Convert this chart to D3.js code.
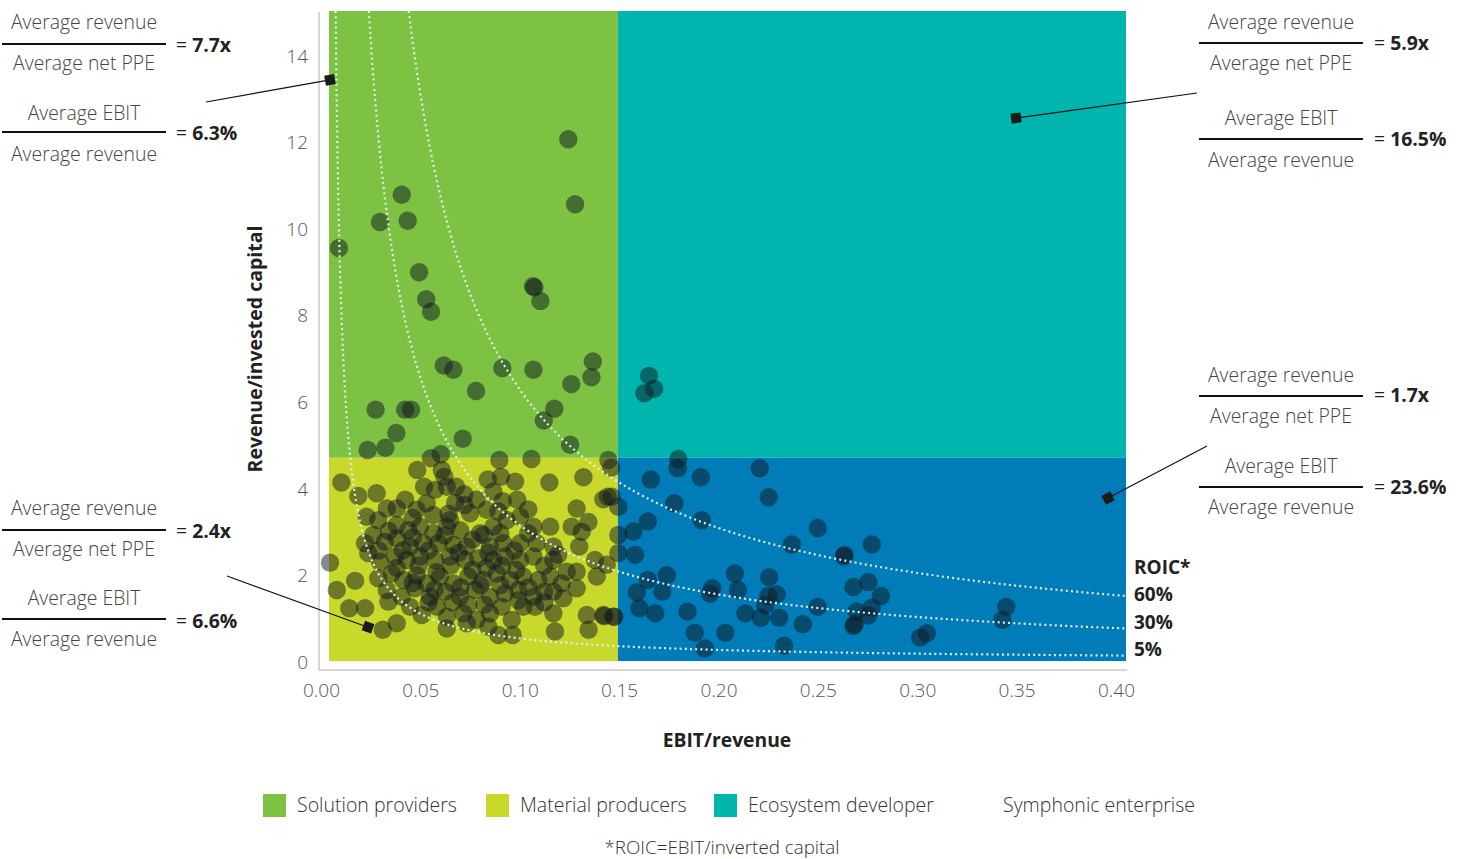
<!DOCTYPE html>
<html>
<head>
<meta charset="utf-8">
<script src="https://cdn.jsdelivr.net/npm/d3@7"></script>
<style>
  html, body { margin: 0; padding: 0; background: #fff; }
  svg { display: block; font-family: "Open Sans", "Noto Sans", sans-serif; }
</style>
</head>
<body>
<svg id="chart" width="1465" height="859"></svg>
<script>
// ---------------- DATA ----------------
const xTicks = [0, 0.05, 0.10, 0.15, 0.20, 0.25, 0.30, 0.35, 0.40];
const yTicks = [0, 2, 4, 6, 8, 10, 12, 14];

const segmentNames = ["Solution providers", "Material producers", "Ecosystem developer", "Symphonic enterprise"];
const segmentColors = ["#7dc242", "#c8d92c", "#00b5ad", "#007cb8"];
const segmentShowSwatch = [true, true, true, false];
const marginSplit = 0.145;      // EBIT/revenue boundary
const turnoverSplit = 4.69;     // revenue/invested capital boundary
const xMax = 0.40, yMax = 15;

// ROIC iso-lines
const roicLevels = [0.60, 0.30, 0.05];
const roicLabels = ["60%", "30%", "5%"];

// segment averages (marker squares)
const segmentMarkers = [
  [0.0005, 13.41],  // solution providers
  [0.3448, 12.53],  // ecosystem developer
  [0.3910, 3.76],   // symphonic enterprise
  [0.0196, 0.78]    // material producers
];
const ratioPPE = ["7.7x", "5.9x", "1.7x", "2.4x"];
const ratioEBIT = ["6.3%", "16.5%", "23.6%", "6.6%"];

// companies: [EBIT/revenue, revenue/invested capital]
const companies = [
  [0.1201,12.04],[0.1235,10.54],[0.0365,10.76],[0.0256,10.13],[0.0395,10.16],[0.0050,9.53],
  [0.0452,8.97],[0.0488,8.35],[0.0512,8.06],[0.1031,8.62],[0.1024,8.65],[0.1061,8.31],
  [0.0576,6.82],[0.0624,6.72],[0.0870,6.76],[0.1026,6.72],[0.1324,6.91],[0.1317,6.55],
  [0.1216,6.39],[0.0738,6.23],[0.0234,5.80],[0.0382,5.80],[0.0412,5.80],[0.1131,5.82],
  [0.1078,5.55],[0.0338,5.26],[0.0671,5.13],[0.0194,4.87],[0.0283,4.92],[0.1210,4.99],
  [0.0512,4.68],[0.0561,4.77],[0.0855,4.64],[0.1016,4.66],[0.1402,4.64],[0.1416,4.46],
  [0.1606,6.58],[0.1583,6.18],[0.1632,6.28],
  [0.1753,4.66],[0.1750,4.45],[0.1615,4.19],[0.1866,4.24],[0.2162,4.45],[0.2207,3.78],
  [0.1733,3.64],[0.1871,3.25],[0.1600,3.22],[0.1528,2.99],[0.2453,3.07],[0.2323,2.69],
  [0.2724,2.69],[0.2584,2.41],[0.2588,2.45],[0.1536,2.45],[0.1695,1.98],[0.1600,1.87],
  [0.1545,1.58],[0.1673,1.60],[0.1923,1.68],[0.1913,1.55],[0.2037,2.02],[0.2052,1.64],
  [0.2209,1.93],[0.2247,1.54],[0.2205,1.50],[0.2189,1.29],[0.1558,1.22],[0.1637,1.10],
  [0.1799,1.14],[0.2090,1.10],[0.2167,1.00],[0.2259,1.00],[0.2378,0.85],[0.2453,1.25],
  [0.2632,1.71],[0.2707,1.82],[0.2770,1.50],[0.2649,1.14],[0.2724,1.23],[0.2707,1.05],
  [0.2632,0.81],[0.2638,0.85],[0.1836,0.65],[0.1989,0.65],[0.1887,0.29],[0.2284,0.35],
  [0.3399,1.25],[0.3380,0.95],[0.3000,0.64],[0.2967,0.54],
  [0.1399,3.79],[0.1452,3.56],[0.1452,2.91],[0.1452,2.49],[0.1432,1.02],[0.1380,1.04],
  [0.0062,4.12],[0.0147,3.81],[0.0239,3.87],[0.0443,4.41],[0.0566,4.41],[0.0579,4.25],
  [0.0477,4.02],[0.0532,3.95],[0.0591,4.02],[0.0638,4.02],[0.0679,3.85],[0.0797,4.19],
  [0.0863,4.25],[0.0934,4.14],[0.0825,3.91],[0.0872,3.69],[0.0945,3.72],[0.1106,4.12],
  [0.1277,4.24],[0.0340,3.52],[0.0290,3.52],[0.0382,3.72],[0.0440,3.49],[0.0490,3.64],
  [0.0524,3.37],[0.0633,3.65],[0.0741,3.72],[0.0792,3.49],[0.0708,3.41],[0.0607,3.25],
  [0.0189,3.33],[0.0247,3.25],[0.0340,3.14],[0.0398,3.02],[0.0457,3.10],[0.0524,2.95],
  [0.0591,3.10],[0.0658,3.02],[0.0758,2.95],[0.0825,3.10],[0.0892,3.25],[0.0959,3.33],
  [0.1026,3.10],[0.1110,3.10],[0.1218,3.10],[0.1302,3.21],[0.1243,3.52],[0.1377,3.73],
  [0.1419,3.79],[0.1268,2.98],[0.0181,2.72],[0.0222,2.91],[0.0281,2.75],[0.0340,2.83],
  [0.0407,2.64],[0.0473,2.72],[0.0549,2.72],[0.0624,2.68],[0.0691,2.64],[0.0775,2.91],
  [0.0808,2.64],[0.0875,2.72],[0.0959,2.72],[0.1042,2.72],[0.1126,2.64],[0.1256,2.64],
  [0.0197,2.49],[0.0256,2.29],[0.0331,2.41],[0.0390,2.33],[0.0457,2.41],[0.0532,2.33],
  [0.0607,2.41],[0.0683,2.33],[0.0749,2.37],[0.0825,2.33],[0.0883,2.41],[0.0959,2.33],
  [0.1026,2.41],[0.1126,2.33],[0.1193,2.06],[0.1243,2.06],[0.1335,2.33],[0.1394,2.22],
  [0.0005,2.27],[0.0131,1.85],[0.0039,1.64],[0.0247,1.91],[0.0315,2.02],[0.0373,1.87],
  [0.0440,1.98],[0.0490,1.79],[0.0557,1.95],[0.0624,1.79],[0.0699,1.95],[0.0775,1.87],
  [0.0842,2.02],[0.0909,1.87],[0.0975,1.95],[0.1051,1.87],[0.1110,1.95],[0.1168,1.79],
  [0.1243,1.68],[0.1344,1.95],[0.0290,1.64],[0.0365,1.48],[0.0432,1.68],[0.0507,1.48],
  [0.0582,1.60],[0.0658,1.48],[0.0733,1.64],[0.0808,1.48],[0.0883,1.56],[0.0950,1.64],
  [0.1026,1.48],[0.1126,1.60],[0.1176,1.45],[0.0102,1.22],[0.0181,1.22],[0.0298,1.37],
  [0.0407,1.25],[0.0465,1.06],[0.0541,1.25],[0.0591,1.02],[0.0674,1.10],[0.0741,0.95],
  [0.0808,1.10],[0.0867,1.25],[0.0917,0.95],[0.0975,1.25],[0.1034,1.25],[0.1126,1.10],
  [0.1294,1.06],[0.1377,1.06],[0.1427,1.02],[0.0270,0.72],[0.0340,0.87],[0.0591,0.75],
  [0.0691,0.87],[0.0800,0.79],[0.0850,0.60],[0.0922,0.60],[0.1134,0.68],[0.1303,0.72],
  [0.0300,3.00],[0.0420,2.85],[0.0500,2.55],[0.0580,2.90],[0.0650,2.50],[0.0720,2.80],
  [0.0800,2.50],[0.0860,2.95],[0.0930,2.55],[0.1000,2.95],[0.0370,2.55],[0.0450,2.20],
  [0.0540,2.05],[0.0610,2.20],[0.0720,2.10],[0.0790,2.15],[0.0870,2.20],[0.0940,2.10],
  [0.1080,2.20],[0.1150,2.45],[0.0340,2.15],[0.0420,1.80],[0.0530,1.65],[0.0660,1.70],
  [0.0760,1.75],[0.0860,1.75],[0.1000,1.70],[0.1080,1.60],[0.0500,1.35],[0.0620,1.35],
  [0.0700,1.30],[0.0780,1.30],[0.0950,1.40],[0.1080,1.35],[0.0600,3.40],[0.0680,3.60],
  [0.0850,3.45],[0.1000,3.50],[0.0420,3.30],[0.0250,2.55]
];

// ---------------- CHART ----------------
const svg = d3.select("#chart");
const plot = {left: 329, right: 1126, top: 11, bottom: 661};
const x = d3.scaleLinear().domain([0, xMax]).range([plot.left, plot.right]);
const y = d3.scaleLinear().domain([0, yMax]).range([plot.bottom, plot.top]);

const quadrants = [
  {x0: 0, x1: marginSplit, y0: turnoverSplit, y1: yMax, c: 0},
  {x0: 0, x1: marginSplit, y0: 0, y1: turnoverSplit, c: 1},
  {x0: marginSplit, x1: xMax, y0: turnoverSplit, y1: yMax, c: 2},
  {x0: marginSplit, x1: xMax, y0: 0, y1: turnoverSplit, c: 3}
];
svg.append("g").selectAll("rect").data(quadrants).join("rect")
  .attr("x", d => x(d.x0)).attr("y", d => y(d.y1))
  .attr("width", d => x(d.x1) - x(d.x0)).attr("height", d => y(d.y0) - y(d.y1))
  .attr("fill", d => segmentColors[d.c]);

// axis lines (offset frame)
const axisColor = "#c8c8c8";
svg.append("line").attr("x1", plot.left - 10).attr("x2", plot.left - 10)
  .attr("y1", plot.top + 1).attr("y2", plot.bottom + 9)
  .attr("stroke", axisColor).attr("stroke-width", 1.5);
svg.append("line").attr("x1", plot.left - 10).attr("x2", plot.right + 1)
  .attr("y1", plot.bottom + 9).attr("y2", plot.bottom + 9)
  .attr("stroke", axisColor).attr("stroke-width", 1.5);

// tick labels
const xAxisScale = x.copy().range([plot.left - 8, plot.right - 10]);
const gx = svg.append("g").attr("transform", `translate(0,${plot.bottom + 9})`)
  .call(d3.axisBottom(xAxisScale).tickValues(xTicks).tickSize(0).tickPadding(14).tickFormat(d3.format(".2f")));
gx.select(".domain").remove();
const yAxisScale = y.copy().range([plot.bottom + 1, plot.top + 2]);
const gy = svg.append("g").attr("transform", `translate(${plot.left - 10},0)`)
  .call(d3.axisLeft(yAxisScale).tickValues(yTicks).tickSize(0).tickPadding(11));
gy.select(".domain").remove();
svg.selectAll(".tick text").attr("font-size", 19).attr("fill", "#555")
  .attr("font-family", "'Open Sans', sans-serif").attr("font-weight", 300);

// companies
svg.append("g").selectAll("circle").data(companies).join("circle")
  .attr("cx", d => x(d[0])).attr("cy", d => y(d[1])).attr("r", 9.2)
  .attr("fill", "#101820").attr("fill-opacity", 0.5);

// ROIC iso-lines
svg.append("clipPath").attr("id", "plotClip").append("rect")
  .attr("x", plot.left).attr("y", plot.top)
  .attr("width", plot.right - plot.left).attr("height", plot.bottom - plot.top);
const line = d3.line().x(d => x(d[0])).y(d => y(d[1]));
svg.append("g").attr("clip-path", "url(#plotClip)").selectAll("path").data(roicLevels).join("path")
  .attr("d", k => line(d3.range(0, 401).map(i => {
      const xv = k / yMax + (xMax - k / yMax) * Math.pow(i / 400, 2);
      return [xv, k / xv];
  })))
  .attr("fill", "none").attr("stroke", "#e6ecee").attr("stroke-width", 2.2)
  .attr("stroke-dasharray", "2 3.2");

// ROIC labels
const roicG = svg.append("g").attr("font-weight", 700).attr("font-size", 19).attr("fill", "#222");
roicG.append("text").attr("x", 1134).attr("y", 574).text("ROIC*");
roicG.selectAll("text.lv").data(roicLevels).join("text").attr("class", "lv")
  .attr("x", 1134).attr("y", (k, i) => [600.5, 628.5, 655.5][i]).text((k, i) => roicLabels[i]);

// axis titles
svg.append("text").attr("x", 727).attr("y", 747).attr("text-anchor", "middle")
  .attr("font-weight", 700).attr("font-size", 19.3).attr("fill", "#222").text("EBIT/revenue");
svg.append("text").attr("transform", "translate(262,349) rotate(-90)").attr("text-anchor", "middle")
  .attr("font-weight", 700).attr("font-size", 19.5).attr("fill", "#222").text("Revenue/invested capital");

// annotations
const annoLayout = [
  {cx: 84, l1: 2, l2: 166, vx: 176, rows: [29, 44, 70, 52, 120, 132, 161, 140], from: [206, 102]},
  {cx: 1281, l1: 1199, l2: 1363, vx: 1374, rows: [28.5, 43, 69.5, 49.5, 124.5, 139, 166.5, 145.5], from: [1197, 93]},
  {cx: 1281, l1: 1199, l2: 1363, vx: 1374, rows: [381.5, 396, 422.5, 401.5, 472.5, 487, 513.5, 493.5], from: [1207, 446]},
  {cx: 84, l1: 2, l2: 166, vx: 176, rows: [514.5, 530, 555.5, 537.5, 604.5, 619, 645.5, 627.5], from: [227, 576]}
];
const ag = svg.append("g").attr("font-size", 19.4);
annoLayout.forEach((a, i) => {
  const r = a.rows;
  const fracs = [["Average revenue", "Average net PPE", ratioPPE[i], 0], ["Average EBIT", "Average revenue", ratioEBIT[i], 4]];
  fracs.forEach(f => {
    const o = f[3];
    ag.append("text").attr("x", a.cx).attr("y", r[o]).attr("text-anchor", "middle")
      .attr("fill", "#444").attr("font-weight", 300).text(f[0]);
    ag.append("line").attr("x1", a.l1).attr("x2", a.l2).attr("y1", r[o + 1]).attr("y2", r[o + 1])
      .attr("stroke", "#111").attr("stroke-width", 2);
    ag.append("text").attr("x", a.cx).attr("y", r[o + 2]).attr("text-anchor", "middle")
      .attr("fill", "#444").attr("font-weight", 300).text(f[1]);
    const t = ag.append("text").attr("x", a.vx).attr("y", r[o + 3]).attr("fill", "#222");
    t.append("tspan").text("= ");
    t.append("tspan").attr("font-weight", 700).text(f[2]);
  });
  // leader line + marker
  const m = segmentMarkers[i];
  const mx = x(m[0]), my = y(m[1]);
  ag.append("line").attr("x1", a.from[0]).attr("y1", a.from[1]).attr("x2", mx).attr("y2", my)
    .attr("stroke", "#111").attr("stroke-width", 1.2);
  const ang = Math.atan2(my - a.from[1], mx - a.from[0]) * 180 / Math.PI;
  ag.append("rect").attr("x", -5).attr("y", -5).attr("width", 10).attr("height", 10)
    .attr("fill", "#1a1a1a").attr("transform", `translate(${mx},${my}) rotate(${ang})`);
});

// legend
const legendX = [263, 486, 714, 969];
const lg = svg.append("g").attr("font-size", 19.5);
segmentNames.forEach((n, i) => {
  if (segmentShowSwatch[i]) {
    lg.append("rect").attr("x", legendX[i]).attr("y", 794).attr("width", 23).attr("height", 23)
      .attr("fill", segmentColors[i]);
  }
  lg.append("text").attr("x", legendX[i] + 34).attr("y", 811.5).attr("fill", "#333")
    .attr("font-weight", 300).text(n);
});
svg.append("text").attr("x", 722).attr("y", 854).attr("text-anchor", "middle").attr("font-size", 18.8)
  .attr("fill", "#333").attr("font-weight", 300).text("*ROIC=EBIT/inverted capital");
</script>
</body>
</html>
